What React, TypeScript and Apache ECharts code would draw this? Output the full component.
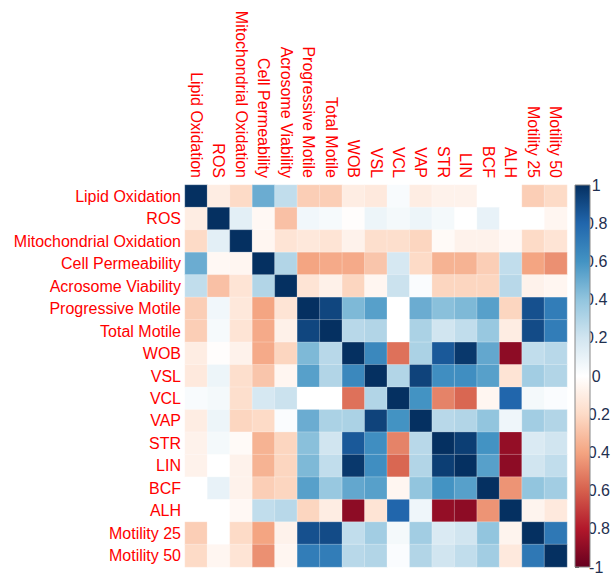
import React, { useEffect, useRef } from "react";
import * as echarts from "echarts";

const variables = [
  "Lipid Oxidation", "ROS", "Mitochondrial Oxidation", "Cell Permeability",
  "Acrosome Viability", "Progressive Motile", "Total Motile", "WOB", "VSL",
  "VCL", "VAP", "STR", "LIN", "BCF", "ALH", "Motility 25", "Motility 50",
];

// upper triangle rows (including diagonal), row i starts at column i
const rowLO = [1, -0.1, -0.2, 0.5, 0.25, -0.25, -0.25, -0.1, -0.12, 0.03, -0.1, -0.07, -0.07, 0, 0, -0.25, -0.2];
const rowROS = [1, 0.12, -0.04, -0.3, 0.06, 0.04, -0.01, 0.08, 0.05, 0.08, 0.05, 0, 0.1, 0, 0, -0.05];
const rowMO = [1, -0.05, -0.15, -0.13, -0.15, -0.07, -0.18, -0.18, -0.22, -0.03, -0.07, -0.07, -0.04, -0.2, -0.15];
const rowCP = [1, 0.3, -0.4, -0.38, -0.38, -0.28, 0.18, -0.2, -0.35, -0.35, -0.25, 0.25, -0.4, -0.46];
const rowAV = [1, -0.15, -0.08, -0.22, -0.05, 0.22, 0.02, -0.22, -0.22, -0.22, 0.28, -0.07, -0.05];
const rowPM = [1, 0.92, 0.45, 0.55, 0.0, 0.5, 0.42, 0.45, 0.55, -0.22, 0.88, 0.7];
const rowTM = [1, 0.28, 0.3, 0.0, 0.32, 0.2, 0.25, 0.38, -0.1, 0.9, 0.7];
const rowWOB = [1, 0.65, -0.55, 0.32, 0.85, 0.97, 0.52, -0.9, 0.25, 0.28];
const rowVSL = [1, 0.3, 0.93, 0.62, 0.62, 0.55, -0.15, 0.35, 0.3];
const rowVCL = [1, 0.6, -0.5, -0.58, -0.05, 0.8, 0.05, 0.02];
const rowVAP = [1, 0.28, 0.3, 0.4, 0.07, 0.35, 0.3];
const rowSTR = [1, 0.95, 0.6, -0.88, 0.16, 0.2];
const rowLIN = [1, 0.55, -0.9, 0.2, 0.25];
const rowBCF = [1, -0.45, 0.4, 0.35];
const rowALH = [1, -0.06, -0.12];
const rowM25 = [1, 0.72];
const rowM50 = [1];

const upperRows = [rowLO, rowROS, rowMO, rowCP, rowAV, rowPM, rowTM, rowWOB, rowVSL, rowVCL, rowVAP, rowSTR, rowLIN, rowBCF, rowALH, rowM25, rowM50];

const rdbu = ["#67001F", "#B2182B", "#D6604D", "#F4A582", "#FDDBC7", "#FFFFFF", "#D1E5F0", "#92C5DE", "#4393C3", "#2166AC", "#053061"];

export default function App() {
  const ref = useRef<HTMLDivElement>(null);
  useEffect(() => {
    document.body.style.margin = "0";
    if (!ref.current) return;
    const chart = echarts.init(ref.current, null, { renderer: "svg" });
    const n = variables.length;
    const data: [number, number, number][] = [];
    for (let i = 0; i < n; i++) {
      const row = upperRows[i];
      for (let k = 0; k < row.length; k++) {
        const j = i + k;
        data.push([j, i, row[k]]);
        if (j !== i) data.push([i, j, row[k]]);
      }
    }
    const font = "'Liberation Sans', Arial, sans-serif";
    const gridL = 185, gridT = 185, size = 382;
    chart.setOption({
      animation: false,
      backgroundColor: "#ffffff",
      grid: [
        { left: gridL, top: gridT, width: size, height: size },
        { left: 575, top: gridT, width: 15, height: size },
      ],
      xAxis: [
        {
          type: "category",
          gridIndex: 0,
          data: variables,
          position: "top",
          axisLine: { show: false },
          axisTick: { show: false },
          splitLine: { show: false },
          axisLabel: { rotate: 90, color: "#FF0000", fontSize: 16, fontFamily: font, margin: 7, interval: 0 },
        },
        { type: "value", gridIndex: 1, show: false, min: 0, max: 1 },
      ],
      yAxis: [
        {
          type: "category",
          gridIndex: 0,
          data: variables,
          inverse: true,
          axisLine: { show: false },
          axisTick: { show: false },
          splitLine: { show: false },
          axisLabel: { color: "#FF0000", fontSize: 16, fontFamily: font, margin: 4, interval: 0 },
        },
        {
          type: "value",
          gridIndex: 1,
          min: -1,
          max: 1,
          interval: 0.2,
          position: "right",
          axisLine: { show: false },
          axisTick: { show: true, length: 4, inside: false, lineStyle: { color: "#555555", width: 1 } },
          splitLine: { show: false },
          axisLabel: {
            color: "#1f3050",
            fontSize: 16,
            fontFamily: font,
            margin: 17,
            align: "center",
            showMinLabel: true,
            showMaxLabel: true,
            formatter: (v: number) => String(+v.toFixed(1)),
          },
        },
      ],
      visualMap: {
        show: false,
        min: -1,
        max: 1,
        seriesIndex: 0,
        inRange: { color: rdbu },
      },
      graphic: [
        {
          type: "rect",
          shape: { x: 575, y: gridT, width: 15, height: size },
          style: {
            fill: new echarts.graphic.LinearGradient(0, 0, 0, 1, rdbu.slice().reverse().map((c, i) => ({ offset: i / (rdbu.length - 1), color: c }))),
            stroke: "#888888",
            lineWidth: 1,
          },
          z: 10,
        },
      ],
      series: [
        {
          type: "heatmap",
          xAxisIndex: 0,
          yAxisIndex: 0,
          data,
          itemStyle: { borderColor: "rgba(255,255,255,0.5)", borderWidth: 0.5 },
          emphasis: { disabled: true },
        },
      ],
    });
    return () => chart.dispose();
  }, []);
  return <div ref={ref} style={{ width: 613, height: 579 }} />;
}
